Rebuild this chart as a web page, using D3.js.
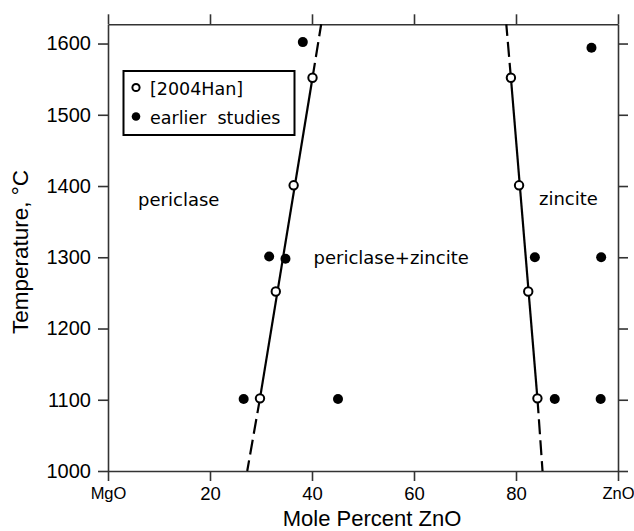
<!DOCTYPE html>
<html>
<head>
<meta charset="utf-8">
<script src="https://cdn.jsdelivr.net/npm/d3@7"></script>
<style>
  body { margin: 0; background: #fff; }
  svg { display: block; }
</style>
</head>
<body>
<svg width="634" height="531"></svg>
<script>
// data
const hanX = [40.1, 36.4, 32.9, 29.8, 79.0, 80.6, 82.4, 84.2];
const hanT = [1552, 1401, 1252, 1102, 1552, 1401, 1252, 1102];
const earlierX = [38.2, 31.6, 34.8, 26.6, 45.1, 94.8, 83.7, 96.7, 87.6, 96.6];
const earlierT = [1602, 1301, 1298, 1101, 1101, 1594, 1300, 1300, 1101, 1101];

// phase boundaries: ends are dashed extrapolations
const periBoundX = [27.3, 29.8, 40.1, 41.8];
const periBoundT = [1000, 1102, 1552, 1627];
const zincBoundX = [85.2, 84.2, 79.0, 78.1];
const zincBoundT = [1000, 1102, 1552, 1627];

const xTicks = [0, 20, 40, 60, 80, 100];
const xTickLabels = ["MgO", "20", "40", "60", "80", "ZnO"];
const yTicks = [1000, 1100, 1200, 1300, 1400, 1500, 1600];

const regions = ["periclase", "periclase+zincite", "zincite"];
const regionX = [5.9, 40.3, 84.5];
const regionT = [1372, 1291, 1373];

const legendLabels = ["[2004Han]", "earlier  studies"];

var svg = d3.select("svg");
let axisColor = "#333";

var x = d3.scaleLinear().domain([0, 100]).range([108, 618]);
var y = d3.scaleLinear().domain([1000, 1627]).range([471, 24.3]);

// axes
let gBottom = svg.append("g")
  .attr("transform", "translate(0," + y(1000) + ")")
  .call(d3.axisBottom(x).tickValues(xTicks).tickSize(10).tickSizeOuter(0).tickPadding(6)
    .tickFormat(function(d, i) { return xTickLabels[i]; }));

gBottom.selectAll("text")
  .attr("font-family", "Liberation Sans, Arial, sans-serif")
  .attr("font-size", function(d) { return (d === 0 || d === 100) ? "16.5px" : "18.5px"; })
  .attr("fill", "#000");

let gLeft = svg.append("g")
  .attr("transform", "translate(" + x(0) + ",0)")
  .call(d3.axisLeft(y).tickValues(yTicks).tickSize(10).tickSizeOuter(0).tickPadding(7)
    .tickFormat(d3.format("d")));

gLeft.selectAll("text")
  .attr("font-family", "Liberation Sans, Arial, sans-serif")
  .attr("font-size", "20px")
  .attr("fill", "#000");

svg.append("g")
  .attr("transform", "translate(0," + y(1627) + ")")
  .call(d3.axisTop(x).tickValues(xTicks).tickSize(10).tickSizeOuter(0).tickFormat(""));

svg.append("g")
  .attr("transform", "translate(" + x(100) + ",0)")
  .call(d3.axisRight(y).tickValues(yTicks).tickSize(10).tickSizeOuter(0).tickFormat(""));

svg.selectAll(".domain, .tick line")
  .attr("stroke", axisColor)
  .attr("stroke-width", 1.6);

// axis titles
svg.append("text")
  .attr("x", 372)
  .attr("y", 526)
  .attr("text-anchor", "middle")
  .attr("font-family", "Liberation Sans, Arial, sans-serif")
  .attr("font-size", "22px")
  .text("Mole Percent ZnO");

svg.append("text")
  .attr("transform", "translate(28,252) rotate(-90)")
  .attr("text-anchor", "middle")
  .attr("font-family", "Liberation Sans, Arial, sans-serif")
  .attr("font-size", "22.5px")
  .text("Temperature, \u00b0C");

// boundary lines
var line = d3.line()
  .x(function(d) { return x(d[0]); })
  .y(function(d) { return y(d[1]); });

[[periBoundX, periBoundT], [zincBoundX, zincBoundT]].forEach(function(b) {
  let pts = b[0].map(function(v, i) { return [v, b[1][i]]; });
  svg.append("path")
    .attr("d", line([pts[1], pts[2]]))
    .attr("fill", "none")
    .attr("stroke", "#000")
    .attr("stroke-width", 2.2);
  svg.append("path")
    .attr("d", line([pts[1], pts[0]]))
    .attr("fill", "none")
    .attr("stroke", "#000")
    .attr("stroke-width", 2.2)
    .attr("stroke-dasharray", "15,6");
  svg.append("path")
    .attr("d", line([pts[2], pts[3]]))
    .attr("fill", "none")
    .attr("stroke", "#000")
    .attr("stroke-width", 2.2)
    .attr("stroke-dasharray", "15,6");
});

// data points
svg.append("g")
  .selectAll("circle")
  .data(earlierX)
  .enter()
  .append("circle")
  .attr("cx", function(d) { return x(d); })
  .attr("cy", function(d, i) { return y(earlierT[i]); })
  .attr("r", 5)
  .attr("fill", "#000");

svg.append("g")
  .selectAll("circle")
  .data(hanX)
  .enter()
  .append("circle")
  .attr("cx", function(d) { return x(d); })
  .attr("cy", function(d, i) { return y(hanT[i]); })
  .attr("r", 4.2)
  .attr("fill", "#fff")
  .attr("stroke", "#000")
  .attr("stroke-width", 2);

// region labels
svg.append("g")
  .selectAll("text")
  .data(regions)
  .enter()
  .append("text")
  .attr("x", function(d, i) { return x(regionX[i]); })
  .attr("y", function(d, i) { return y(regionT[i]); })
  .attr("font-family", "DejaVu Sans, sans-serif")
  .attr("font-size", "18px")
  .text(function(d) { return d; });

// legend
let legend = svg.append("g");
legend.append("rect")
  .attr("x", 123.5)
  .attr("y", 71)
  .attr("width", 171)
  .attr("height", 64)
  .attr("fill", "#fff")
  .attr("stroke", "#000")
  .attr("stroke-width", 2);

legend.append("circle")
  .attr("cx", 136).attr("cy", 87.5).attr("r", 3.6)
  .attr("fill", "#fff").attr("stroke", "#000").attr("stroke-width", 2);
legend.append("circle")
  .attr("cx", 136).attr("cy", 116.5).attr("r", 4.3)
  .attr("fill", "#000");

legend.selectAll("text")
  .data(legendLabels)
  .enter()
  .append("text")
  .attr("x", 150)
  .attr("y", function(d, i) { return 94.5 + i * 29; })
  .attr("font-family", "DejaVu Sans, sans-serif")
  .attr("font-size", "17.5px")
  .attr("xml:space", "preserve")
  .style("white-space", "pre")
  .text(function(d) { return d; });
</script>
</body>
</html>
